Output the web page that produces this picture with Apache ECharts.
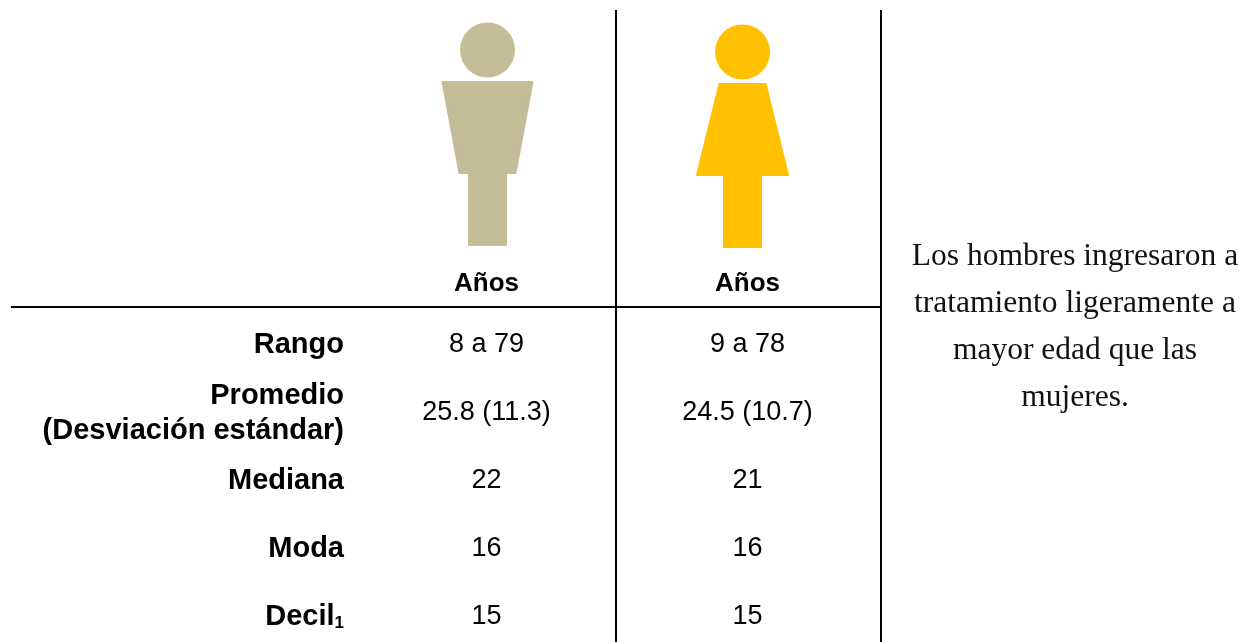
<!DOCTYPE html>
<html>
<head>
<meta charset="utf-8">
<style>
  html, body { margin: 0; padding: 0; background: #fff; }
  #chart { width: 1251px; height: 642px; }
</style>
<script src="https://cdn.jsdelivr.net/npm/echarts@6/dist/echarts.min.js"></script>
</head>
<body>
<div id="chart"></div>
<script>
const columnas = ['Años', 'Años'];
const filas = ['Rango', 'Promedio\n(Desviación estándar)', 'Mediana', 'Moda', 'Decil'];
const hombres = ['8 a 79', '25.8 (11.3)', '22', '16', '15'];
const mujeres = ['9 a 78', '24.5 (10.7)', '21', '16', '15'];
const colores = ['#C4BD97', '#FFC000'];
const nota = ['Los hombres ingresaron a', 'tratamiento ligeramente a', 'mayor edad que las', 'mujeres.'];

const SANS = '"Liberation Sans", Arial, sans-serif';
const chart = echarts.init(document.getElementById('chart'));

// silhouettes drawn around the column centre, y in axis units (px from the top of the grid)
function renderPersona(params, api) {
  const i = api.value(0);
  const mujer = i === 1;
  const pt = (dx, y) => {
    const c = api.coord([i, y]);
    return [c[0] + dx + (mujer ? -5 : 1), c[1] + (mujer ? 2 : 0)];
  };
  const style = { fill: api.value(1) === 0 ? colores[0] : colores[1] };
  const head = pt(0, 40);
  const torso = mujer
    ? [pt(-23, 72), pt(23, 72), pt(45.5, 163), pt(-45.5, 163)]
    : [pt(-45, 72), pt(45, 72), pt(28, 163), pt(-28, 163)];
  const legs = [pt(-18.5, 163), pt(18.5, 163), pt(18.5, 235), pt(-18.5, 235)];
  const edge = { stroke: style.fill, lineWidth: 2, lineJoin: 'round' };
  return {
    type: 'group',
    children: [
      { type: 'circle', shape: { cx: head[0], cy: head[1], r: 27.5 }, style },
      { type: 'polygon', shape: { points: torso }, style: { ...style, ...edge } },
      { type: 'polygon', shape: { points: legs }, style: { ...style, ...edge } }
    ]
  };
}

const filaLabel = (v) => {
  if (v === 'Decil') return '{b|Decil}{sub|1}';
  return v.split('\n').map((t) => '{b|' + t + '}').join('\n');
};

const celdas = (valores, col) => valores.map((v, row) => ({ value: [col, row], texto: v }));

const serieValores = (valores, col) => ({
  type: 'scatter',
  xAxisIndex: 1,
  yAxisIndex: 1,
  symbolSize: 0,
  silent: true,
  data: celdas(valores, col),
  label: {
    show: true,
    position: 'inside',
    formatter: (p) => p.data.texto,
    fontFamily: SANS,
    fontSize: 27,
    color: '#000',
    opacity: 1
  }
});

chart.setOption({
  animation: false,
  backgroundColor: '#fff',
  grid: [
    { left: 356, top: 10, width: 522, height: 296, outerBoundsMode: 'none' },
    { left: 356, top: 311, width: 522, height: 340, outerBoundsMode: 'none' }
  ],
  xAxis: [
    {
      type: 'category',
      gridIndex: 0,
      data: columnas,
      axisLine: { show: false },
      axisTick: { show: false },
      axisLabel: {
        show: true,
        interval: 0,
        inside: true,
        margin: 9,
        fontFamily: SANS,
        fontSize: 26,
        fontWeight: 'bold',
        color: '#000'
      }
    },
    { type: 'category', gridIndex: 1, data: columnas, show: false }
  ],
  yAxis: [
    { type: 'value', gridIndex: 0, min: 0, max: 296, inverse: true, show: false },
    {
      type: 'category',
      gridIndex: 1,
      data: filas,
      inverse: true,
      axisLine: { show: false },
      axisTick: { show: false },
      splitLine: { show: false },
      axisLabel: {
        interval: 0,
        margin: 12,
        align: 'right',
        formatter: filaLabel,
        rich: {
          b: { fontFamily: SANS, fontSize: 29, fontWeight: 'bold', color: '#000', lineHeight: 35, align: 'right' },
          sub: { fontFamily: SANS, fontSize: 17, fontWeight: 'bold', color: '#000', lineHeight: 35, padding: [12, 0, 0, 0] }
        }
      }
    }
  ],
  series: [
    {
      type: 'custom',
      xAxisIndex: 0,
      yAxisIndex: 0,
      silent: true,
      renderItem: renderPersona,
      encode: { x: 0 },
      data: columnas.map((c, i) => [i, i])
    },
    serieValores(hombres, 0),
    serieValores(mujeres, 1)
  ],
  graphic: [
    { type: 'line', shape: { x1: 11, y1: 307, x2: 881, y2: 307 }, style: { stroke: '#000', lineWidth: 2 } },
    { type: 'line', shape: { x1: 616, y1: 10, x2: 616, y2: 642 }, style: { stroke: '#000', lineWidth: 2 } },
    { type: 'line', shape: { x1: 881, y1: 10, x2: 881, y2: 642 }, style: { stroke: '#000', lineWidth: 2 } },
    {
      type: 'text',
      x: 1075,
      y: 327,
      style: {
        text: nota.join('\n'),
        fontFamily: '"Liberation Serif", serif',
        fontSize: 31.5,
        lineHeight: 47,
        fill: '#111',
        align: 'center',
        verticalAlign: 'middle'
      }
    }
  ]
});
</script>
</body>
</html>
